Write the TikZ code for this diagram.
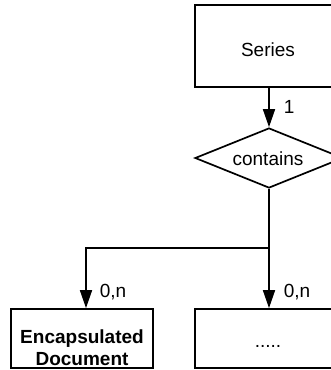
\documentclass[tikz,border=0pt]{standalone}
\usepackage{fontspec}
\setmainfont{Liberation Sans}
\usetikzlibrary{arrows.meta,shapes.geometric}
\begin{document}
\begin{tikzpicture}[x=1pt,y=-1pt,
  line width=1.7pt,
  box/.style={draw,rectangle,inner sep=0,minimum width=#1,minimum height=59},
  txt/.style={inner sep=0,font=\fontsize{19}{22}\selectfont},
  card/.style={inner sep=0,font=\fontsize{19}{22}\selectfont,anchor=base west},
  arr/.style={-{Triangle[length=18pt,width=12pt]}}]
\useasboundingbox (0,0) rectangle (331,370);
\clip (0,0) rectangle (331,370);
% entities and relationship
\node[draw,rectangle,inner sep=0,minimum width=148,minimum height=82] (series) at (269,46) {};
\node[txt] (seriesText) at (268,50) {Series};
\node[draw,diamond,inner sep=0,aspect=2.47,minimum width=148,minimum height=60] (rel) at (269,158) {};
\node[txt] (relText) at (268,159) {contains};
\node[box=142] (enc) at (82,338.5) {};
\node[txt,align=center,font=\fontsize{19}{22}\selectfont\bfseries] (encText) at (82,348) {Encapsulated\\Document};
\node[box=148] (other) at (269,338.5) {};
\node[txt,anchor=base] (otherText) at (268,347) {.....};
% connectors
\draw[arr] (series.south) -- (rel.north);
\coordinate (fork) at (269,248);
\coordinate (forkL) at (86,248);
\draw (rel.south) -- (fork);
\draw[arr] (fork) -- (forkL) -- (forkL |- enc.north);
\draw[arr] (fork) -- (other.north);
% cardinalities
\node[card] (c1) at (283,113) {1};
\node[card] (c2) at (99,297) {0,n};
\node[card] (c3) at (283,297) {0,n};
\end{tikzpicture}
\end{document}
